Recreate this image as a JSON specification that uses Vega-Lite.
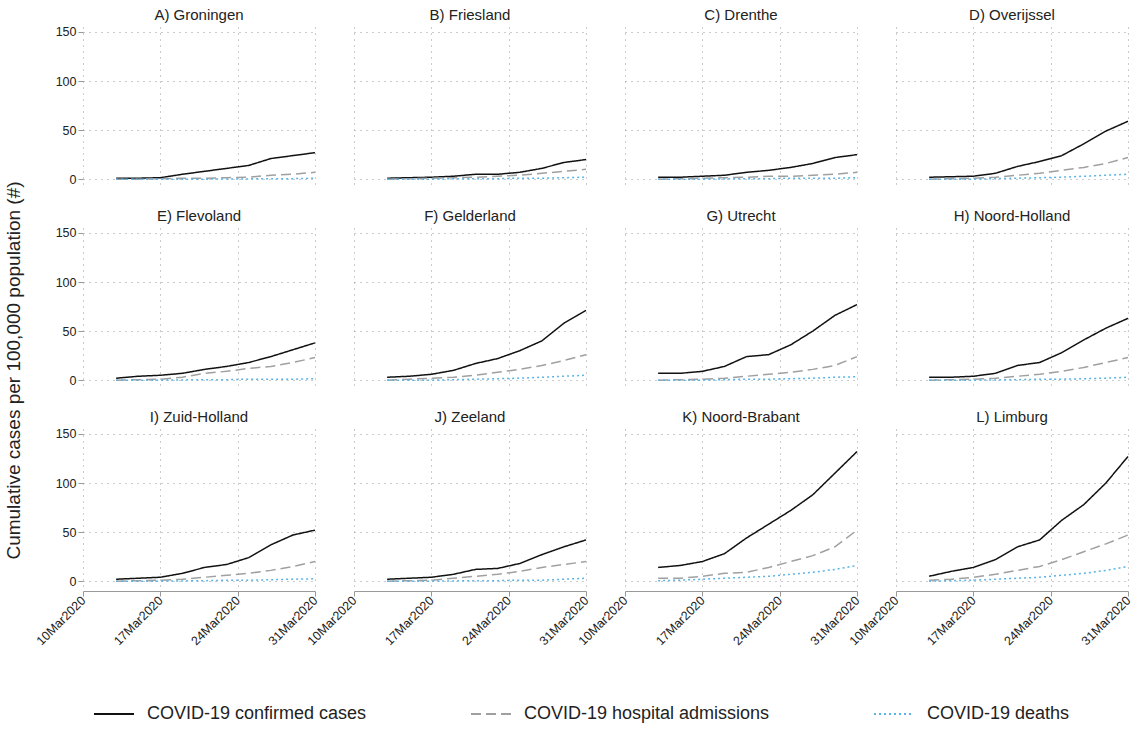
{
  "$schema": "https://vega.github.io/schema/vega-lite/v6.json",
  "background": "white",
  "padding": {"left": 5, "top": 8, "right": 10, "bottom": 2},
  "title": {"text": "Cumulative cases per 100,000 population (#)", "orient": "left", "anchor": "middle", "fontSize": 19, "fontWeight": "normal", "color": "#222", "offset": 10},
  "config": {
    "font": "Liberation Sans",
    "view": {"stroke": null},
    "axis": {"gridDash": [1, 5], "gridColor": "#999", "domainColor": "#999", "tickColor": "#999", "labelColor": "#222", "labelFontSize": 12.5},
    "header": {"labelFontSize": 15, "labelColor": "#222", "labelPadding": 4}
  },
  "data": {
    "values": [
      {"p":"A) Groningen","date":"2020-03-13","c":1,"h":0,"d":0},{"p":"A) Groningen","date":"2020-03-15","c":1,"h":0,"d":0},{"p":"A) Groningen","date":"2020-03-17","c":1.5,"h":0.5,"d":0},{"p":"A) Groningen","date":"2020-03-19","c":5,"h":1,"d":0},{"p":"A) Groningen","date":"2020-03-21","c":8,"h":1,"d":0},{"p":"A) Groningen","date":"2020-03-23","c":11,"h":1.5,"d":0.2},{"p":"A) Groningen","date":"2020-03-25","c":14,"h":2,"d":0.3},{"p":"A) Groningen","date":"2020-03-27","c":21,"h":4,"d":0.5},{"p":"A) Groningen","date":"2020-03-29","c":24,"h":5,"d":0.5},{"p":"A) Groningen","date":"2020-03-31","c":27,"h":7,"d":1},
      {"p":"B) Friesland","date":"2020-03-13","c":1,"h":0,"d":0},{"p":"B) Friesland","date":"2020-03-15","c":1.5,"h":0.5,"d":0},{"p":"B) Friesland","date":"2020-03-17","c":2,"h":1,"d":0},{"p":"B) Friesland","date":"2020-03-19","c":3,"h":1.5,"d":0.5},{"p":"B) Friesland","date":"2020-03-21","c":5,"h":2,"d":0.5},{"p":"B) Friesland","date":"2020-03-23","c":5,"h":3,"d":0.5},{"p":"B) Friesland","date":"2020-03-25","c":7,"h":4,"d":1},{"p":"B) Friesland","date":"2020-03-27","c":11,"h":6,"d":1},{"p":"B) Friesland","date":"2020-03-29","c":17,"h":8,"d":1.5},{"p":"B) Friesland","date":"2020-03-31","c":20,"h":10,"d":2},
      {"p":"C) Drenthe","date":"2020-03-13","c":2,"h":0,"d":0},{"p":"C) Drenthe","date":"2020-03-15","c":2,"h":0.5,"d":0},{"p":"C) Drenthe","date":"2020-03-17","c":3,"h":1,"d":0},{"p":"C) Drenthe","date":"2020-03-19","c":4,"h":1.5,"d":0.3},{"p":"C) Drenthe","date":"2020-03-21","c":7,"h":2,"d":0.5},{"p":"C) Drenthe","date":"2020-03-23","c":9,"h":3,"d":0.5},{"p":"C) Drenthe","date":"2020-03-25","c":12,"h":3,"d":1},{"p":"C) Drenthe","date":"2020-03-27","c":16,"h":4,"d":1},{"p":"C) Drenthe","date":"2020-03-29","c":22,"h":5,"d":1},{"p":"C) Drenthe","date":"2020-03-31","c":25,"h":7,"d":1.5},
      {"p":"D) Overijssel","date":"2020-03-13","c":2,"h":0,"d":0},{"p":"D) Overijssel","date":"2020-03-15","c":2.5,"h":0.5,"d":0},{"p":"D) Overijssel","date":"2020-03-17","c":3,"h":1,"d":0},{"p":"D) Overijssel","date":"2020-03-19","c":6,"h":2,"d":0.5},{"p":"D) Overijssel","date":"2020-03-21","c":13,"h":4,"d":1},{"p":"D) Overijssel","date":"2020-03-23","c":18,"h":6,"d":1.5},{"p":"D) Overijssel","date":"2020-03-25","c":24,"h":9,"d":2},{"p":"D) Overijssel","date":"2020-03-27","c":36,"h":12,"d":3},{"p":"D) Overijssel","date":"2020-03-29","c":49,"h":16,"d":4},{"p":"D) Overijssel","date":"2020-03-31","c":59,"h":22,"d":5},
      {"p":"E) Flevoland","date":"2020-03-13","c":2,"h":0,"d":0},{"p":"E) Flevoland","date":"2020-03-15","c":4,"h":0.5,"d":0},{"p":"E) Flevoland","date":"2020-03-17","c":5,"h":1,"d":0},{"p":"E) Flevoland","date":"2020-03-19","c":7,"h":3,"d":0.3},{"p":"E) Flevoland","date":"2020-03-21","c":11,"h":7,"d":0.5},{"p":"E) Flevoland","date":"2020-03-23","c":14,"h":9,"d":0.5},{"p":"E) Flevoland","date":"2020-03-25","c":18,"h":12,"d":1},{"p":"E) Flevoland","date":"2020-03-27","c":24,"h":14,"d":1},{"p":"E) Flevoland","date":"2020-03-29","c":31,"h":18,"d":1},{"p":"E) Flevoland","date":"2020-03-31","c":38,"h":23,"d":1.5},
      {"p":"F) Gelderland","date":"2020-03-13","c":3,"h":0,"d":0},{"p":"F) Gelderland","date":"2020-03-15","c":4,"h":1,"d":0},{"p":"F) Gelderland","date":"2020-03-17","c":6,"h":2,"d":0},{"p":"F) Gelderland","date":"2020-03-19","c":10,"h":3,"d":0.5},{"p":"F) Gelderland","date":"2020-03-21","c":17,"h":5,"d":1},{"p":"F) Gelderland","date":"2020-03-23","c":22,"h":8,"d":1.5},{"p":"F) Gelderland","date":"2020-03-25","c":30,"h":11,"d":2},{"p":"F) Gelderland","date":"2020-03-27","c":40,"h":15,"d":3},{"p":"F) Gelderland","date":"2020-03-29","c":58,"h":20,"d":4},{"p":"F) Gelderland","date":"2020-03-31","c":71,"h":26,"d":5},
      {"p":"G) Utrecht","date":"2020-03-13","c":7,"h":0,"d":0},{"p":"G) Utrecht","date":"2020-03-15","c":7,"h":0.5,"d":0},{"p":"G) Utrecht","date":"2020-03-17","c":9,"h":1,"d":0},{"p":"G) Utrecht","date":"2020-03-19","c":14,"h":2,"d":0.5},{"p":"G) Utrecht","date":"2020-03-21","c":24,"h":4,"d":1},{"p":"G) Utrecht","date":"2020-03-23","c":26,"h":6,"d":1},{"p":"G) Utrecht","date":"2020-03-25","c":36,"h":8,"d":1.5},{"p":"G) Utrecht","date":"2020-03-27","c":50,"h":11,"d":2},{"p":"G) Utrecht","date":"2020-03-29","c":66,"h":15,"d":3},{"p":"G) Utrecht","date":"2020-03-31","c":77,"h":24,"d":3.5},
      {"p":"H) Noord-Holland","date":"2020-03-13","c":3,"h":0,"d":0},{"p":"H) Noord-Holland","date":"2020-03-15","c":3,"h":0.5,"d":0},{"p":"H) Noord-Holland","date":"2020-03-17","c":4,"h":1,"d":0},{"p":"H) Noord-Holland","date":"2020-03-19","c":7,"h":2,"d":0.3},{"p":"H) Noord-Holland","date":"2020-03-21","c":15,"h":4,"d":0.5},{"p":"H) Noord-Holland","date":"2020-03-23","c":18,"h":6,"d":1},{"p":"H) Noord-Holland","date":"2020-03-25","c":28,"h":9,"d":1},{"p":"H) Noord-Holland","date":"2020-03-27","c":41,"h":13,"d":1.5},{"p":"H) Noord-Holland","date":"2020-03-29","c":53,"h":18,"d":2},{"p":"H) Noord-Holland","date":"2020-03-31","c":63,"h":23,"d":3},
      {"p":"I) Zuid-Holland","date":"2020-03-13","c":2,"h":0,"d":0},{"p":"I) Zuid-Holland","date":"2020-03-15","c":3,"h":0.5,"d":0},{"p":"I) Zuid-Holland","date":"2020-03-17","c":4,"h":1,"d":0},{"p":"I) Zuid-Holland","date":"2020-03-19","c":8,"h":2,"d":0.3},{"p":"I) Zuid-Holland","date":"2020-03-21","c":14,"h":4,"d":0.5},{"p":"I) Zuid-Holland","date":"2020-03-23","c":17,"h":6,"d":1},{"p":"I) Zuid-Holland","date":"2020-03-25","c":24,"h":8,"d":1},{"p":"I) Zuid-Holland","date":"2020-03-27","c":37,"h":11,"d":1.5},{"p":"I) Zuid-Holland","date":"2020-03-29","c":47,"h":15,"d":2},{"p":"I) Zuid-Holland","date":"2020-03-31","c":52,"h":20,"d":2.5},
      {"p":"J) Zeeland","date":"2020-03-13","c":2,"h":0,"d":0},{"p":"J) Zeeland","date":"2020-03-15","c":3,"h":0.5,"d":0},{"p":"J) Zeeland","date":"2020-03-17","c":4,"h":1,"d":0},{"p":"J) Zeeland","date":"2020-03-19","c":7,"h":3,"d":0.3},{"p":"J) Zeeland","date":"2020-03-21","c":12,"h":5,"d":0.5},{"p":"J) Zeeland","date":"2020-03-23","c":13,"h":7,"d":0.5},{"p":"J) Zeeland","date":"2020-03-25","c":18,"h":10,"d":1},{"p":"J) Zeeland","date":"2020-03-27","c":27,"h":14,"d":1},{"p":"J) Zeeland","date":"2020-03-29","c":35,"h":17,"d":2},{"p":"J) Zeeland","date":"2020-03-31","c":42,"h":20,"d":3},
      {"p":"K) Noord-Brabant","date":"2020-03-13","c":14,"h":3,"d":0.5},{"p":"K) Noord-Brabant","date":"2020-03-15","c":16,"h":3,"d":1},{"p":"K) Noord-Brabant","date":"2020-03-17","c":20,"h":5,"d":2},{"p":"K) Noord-Brabant","date":"2020-03-19","c":28,"h":8,"d":3},{"p":"K) Noord-Brabant","date":"2020-03-21","c":44,"h":9,"d":4},{"p":"K) Noord-Brabant","date":"2020-03-23","c":58,"h":14,"d":5},{"p":"K) Noord-Brabant","date":"2020-03-25","c":72,"h":20,"d":7},{"p":"K) Noord-Brabant","date":"2020-03-27","c":88,"h":26,"d":9},{"p":"K) Noord-Brabant","date":"2020-03-29","c":110,"h":35,"d":12},{"p":"K) Noord-Brabant","date":"2020-03-31","c":132,"h":52,"d":16},
      {"p":"L) Limburg","date":"2020-03-13","c":5,"h":1,"d":0},{"p":"L) Limburg","date":"2020-03-15","c":10,"h":2,"d":0.5},{"p":"L) Limburg","date":"2020-03-17","c":14,"h":4,"d":1},{"p":"L) Limburg","date":"2020-03-19","c":22,"h":7,"d":2},{"p":"L) Limburg","date":"2020-03-21","c":35,"h":11,"d":3},{"p":"L) Limburg","date":"2020-03-23","c":42,"h":15,"d":4},{"p":"L) Limburg","date":"2020-03-25","c":62,"h":22,"d":6},{"p":"L) Limburg","date":"2020-03-27","c":78,"h":30,"d":8},{"p":"L) Limburg","date":"2020-03-29","c":100,"h":38,"d":11},{"p":"L) Limburg","date":"2020-03-31","c":127,"h":47,"d":15}
    ]
  },
  "transform": [
    {"fold": ["c", "h", "d"], "as": ["k", "value"]},
    {"lookup": "k", "from": {"data": {"values": [
      {"k": "c", "series": "COVID-19 confirmed cases"},
      {"k": "h", "series": "COVID-19 hospital admissions"},
      {"k": "d", "series": "COVID-19 deaths"}
    ]}, "key": "k", "fields": ["series"]}}
  ],
  "facet": {"field": "p", "type": "nominal", "header": {"title": null}},
  "columns": 4,
  "spacing": {"column": 36, "row": 20},
  "spec": {
    "width": 232,
    "height": 162,
    "mark": {"type": "line", "strokeWidth": 1.5},
    "encoding": {
      "x": {
        "field": "date", "type": "temporal",
        "scale": {"type": "utc", "domain": ["2020-03-10", "2020-03-31"]},
        "axis": {
          "title": null, "grid": true, "format": "%d%b%Y", "labelAngle": -45, "labelAlign": "right", "labelBaseline": "middle",
          "values": [
            {"year": 2020, "month": 3, "date": 10, "utc": true},
            {"year": 2020, "month": 3, "date": 17, "utc": true},
            {"year": 2020, "month": 3, "date": 24, "utc": true},
            {"year": 2020, "month": 3, "date": 31, "utc": true}
          ]
        }
      },
      "y": {
        "field": "value", "type": "quantitative",
        "scale": {"domain": [-10, 155], "nice": false},
        "axis": {"values": [0, 50, 100, 150], "title": null, "domain": false}
      },
      "color": {
        "field": "series", "type": "nominal",
        "scale": {"domain": ["COVID-19 confirmed cases", "COVID-19 hospital admissions", "COVID-19 deaths"], "range": ["#111111", "#a0a0a0", "#5ab4e6"]},
        "legend": {"orient": "bottom", "title": null, "labelFontSize": 18, "labelColor": "#222", "symbolType": "stroke", "symbolSize": 1600, "symbolStrokeWidth": 2, "columnPadding": 100, "labelOffset": 12, "labelLimit": 400, "offset": 35, "padding": 10}
      },
      "strokeDash": {
        "field": "series", "type": "nominal",
        "scale": {"domain": ["COVID-19 confirmed cases", "COVID-19 hospital admissions", "COVID-19 deaths"], "range": [[1, 0], [10, 5], [2, 3]]},
        "legend": null
      }
    }
  }
}
